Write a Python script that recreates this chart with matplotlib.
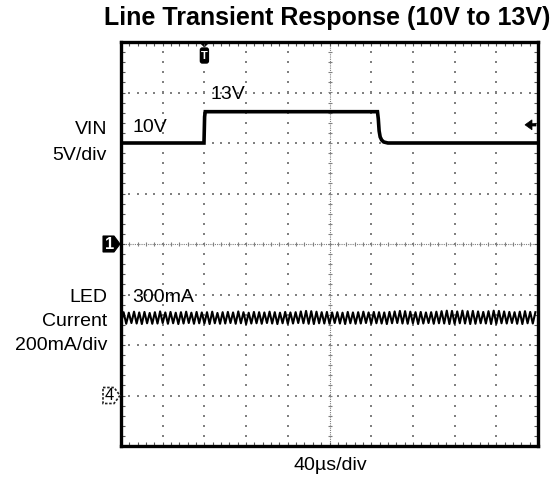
import numpy as np
import matplotlib.pyplot as plt
import matplotlib.transforms as mtransforms
from matplotlib.patches import Polygon, FancyBboxPatch

plt.rcParams["font.family"] = ["Liberation Sans", "DejaVu Sans"]

# scope settings
TIME_PER_DIV = 40.0        # us/div
VIN_PER_DIV = 5.0          # V/div
ILED_PER_DIV = 200.0       # mA/div
CH1_GROUND_DIV = 0.0
CH4_GROUND_DIV = -3.0
TRIG_TIME = 80.0           # us
TRIG_LEVEL = 11.8          # V

# channel 1: input voltage step 10V -> 13V -> 10V
vin_t = [0, 79.6, 80.2, 80.8, 246.0, 246.8, 247.6, 248.6, 250.0, 252.0, 256.0, 400]
vin_v = [10.0, 10.0, 12.6, 13.1, 13.1, 12.4, 11.2, 10.6, 10.3, 10.1, 10.0, 10.0]

# channel 4: LED current ripple, peaks and troughs (mA), one cycle ~5us
ripple_period = 5.0
ripple_peaks = [330, 328, 332, 329, 331, 327, 330, 333, 329, 331,
                328, 330, 332, 328, 331, 329, 330, 332, 327, 330,
                331, 329, 333, 330, 328, 331, 330, 329, 332, 330,
                328, 331, 329, 330, 333, 335, 334, 332, 330, 331,
                329, 330, 328, 331, 329, 330, 332, 329, 331, 330,
                329, 331, 333, 335, 334, 332, 330, 331, 329, 330,
                332, 334, 336, 335, 333, 336, 334, 335, 333, 331,
                334, 336, 335, 333, 331, 330, 332, 334, 331, 330]
ripple_troughs = [286, 284, 287, 285, 283, 286, 284, 285, 287, 284,
                  286, 283, 285, 287, 284, 286, 285, 283, 286, 284,
                  285, 287, 284, 286, 283, 285, 286, 284, 287, 285,
                  283, 286, 284, 285, 287, 286, 284, 283, 286, 285,
                  284, 287, 285, 283, 286, 284, 285, 287, 284, 286,
                  285, 283, 286, 287, 285, 284, 286, 283, 285, 287,
                  284, 286, 285, 283, 284, 286, 285, 283, 284, 286,
                  285, 283, 284, 286, 285, 287, 284, 283, 286, 285]

led_t = []
led_i = []
for k, (pk, tr) in enumerate(zip(ripple_peaks, ripple_troughs)):
    led_t += [k * ripple_period, k * ripple_period + ripple_period * 0.5]
    led_i += [tr, pk]

W, H = 557, 480
fig = plt.figure(figsize=(W / 100, H / 100), dpi=100)
ax = fig.add_axes([121 / W, 34 / H, 417 / W, 404 / H])
ax.set_xlim(0, 10 * TIME_PER_DIV)
ax.set_ylim(-4, 4)


def fx(px):
    return px / W


def fy(py):
    return 1 - py / H


# graticule dots
grid_c = "#808080"
for k in range(1, 10):
    x = k * TIME_PER_DIV
    if k == 5:
        continue
    ys = np.arange(-4, 4.001, 0.2)
    ax.scatter(np.full(len(ys), x), ys, s=1.4, c=grid_c, marker="s", lw=0, zorder=1)
for k in range(-3, 4):
    if k == 0:
        continue
    xs = np.arange(0, 400.01, TIME_PER_DIV / 5)
    ax.scatter(xs, np.full(len(xs), k), s=1.4, c=grid_c, marker="s", lw=0, zorder=1)

# center cross with minor ticks
ax.axvline(200, color=grid_c, lw=0.8, ls=(0, (1, 1)), zorder=1)
ax.axhline(0, color=grid_c, lw=0.8, ls=(0, (1, 1)), zorder=1)
ys = np.arange(-4, 4.001, 0.2)
ax.scatter(np.full(len(ys), 200), ys, s=12, marker="_", c=grid_c, lw=0.8, zorder=1)
xs = np.arange(0, 400.01, TIME_PER_DIV / 5)
ax.scatter(xs, np.zeros(len(xs)), s=12, marker="|", c=grid_c, lw=0.8, zorder=1)

# border ticks
ax.set_xticks(np.arange(0, 401, TIME_PER_DIV))
ax.set_yticks(np.arange(-4, 5, 1))
ax.set_xticks(np.arange(0, 401, TIME_PER_DIV / 5), minor=True)
ax.set_yticks(np.arange(-4, 4.01, 0.2), minor=True)
ax.tick_params(which="both", direction="in", length=3, width=0.8, color="#555555",
               top=True, right=True, labelbottom=False, labelleft=False)
for sp in ax.spines.values():
    sp.set_linewidth(2.4)
    sp.set_zorder(5)

# traces
vin_div = [CH1_GROUND_DIV + v / VIN_PER_DIV for v in vin_v]
ax.plot(vin_t, vin_div, color="black", lw=2.6, zorder=3, solid_joinstyle="miter")
led_div = [CH4_GROUND_DIV + i / ILED_PER_DIV for i in led_i]
ax.plot(led_t, led_div, color="black", lw=1.5, zorder=3)

# markers (pixel offsets from data anchors)
def marker(xd, yd, verts, **kw):
    tr = mtransforms.ScaledTranslation(xd, yd, ax.transData)
    p = Polygon(verts, closed=True, transform=tr, clip_on=False, **kw)
    ax.add_patch(p)
    return tr


# trigger time marker at top
tr = marker(TRIG_TIME, 4, [(-4, -1), (4, -1), (0, -5)], fc="black", ec="black", lw=0.5)
box = FancyBboxPatch((-4, -21), 8, 15, boxstyle="round,pad=0,rounding_size=2",
                     transform=tr, fc="black", ec="black", clip_on=False, zorder=6)
ax.add_patch(box)
ax.text(0, -13.5, "T", transform=tr, color="white", fontsize=8, fontweight="bold",
        ha="center", va="center", zorder=7)

# trigger level marker on right edge
marker(400, TRIG_LEVEL / VIN_PER_DIV, [(-13, 0), (-6, 5), (-6, 1.2), (-2, 1.2),
                                      (-2, -1.2), (-6, -1.2), (-6, -5)],
       fc="black", ec="black", lw=0.5, zorder=6)

# channel ground markers
pent = [(-18, 8), (-7, 8), (-1, 0), (-7, -8), (-18, -8)]
tr1 = marker(0, CH1_GROUND_DIV, pent, fc="black", ec="black", lw=0.8, zorder=6)
ax.text(-11.5, 0, "1", transform=tr1, color="white", fontsize=12, fontweight="bold",
        ha="center", va="center", zorder=7)
tr4 = marker(0, CH4_GROUND_DIV, pent, fc="white", ec="#222222", lw=1.2, ls=(0, (1.5, 1)),
             zorder=6)
ax.text(-11.5, 0, "4", transform=tr4, color="black", fontsize=12,
        ha="center", va="center", zorder=7)

# labels
fs = 14
fig.text(fx(107), fy(130), "VIN", ha="right", va="center", fontsize=fs)
fig.text(fx(107), fy(156), "5V/div", ha="right", va="center", fontsize=fs)
fig.text(fx(107), fy(297), "LED", ha="right", va="center", fontsize=fs)
fig.text(fx(107), fy(321), "Current", ha="right", va="center", fontsize=fs)
fig.text(fx(107), fy(346), "200mA/div", ha="right", va="center", fontsize=fs)
ax.text(11, 2.0 + 0.31, "10V", ha="left", va="center", fontsize=fs)
ax.text(86, 2.6 + 0.36, "13V", ha="left", va="center", fontsize=fs)
ax.text(11, CH4_GROUND_DIV + 1.5 + 0.45, "300mA", ha="left", va="center", fontsize=fs)
fig.text(fx(330), fy(466), "40µs/div", ha="center", va="center", fontsize=fs)
fig.text(fx(550), fy(25), "Line Transient Response (10V to 13V)", ha="right",
         va="baseline", fontsize=18, fontweight="bold")

fig.savefig("out.png", dpi=100)
plt.close(fig)
